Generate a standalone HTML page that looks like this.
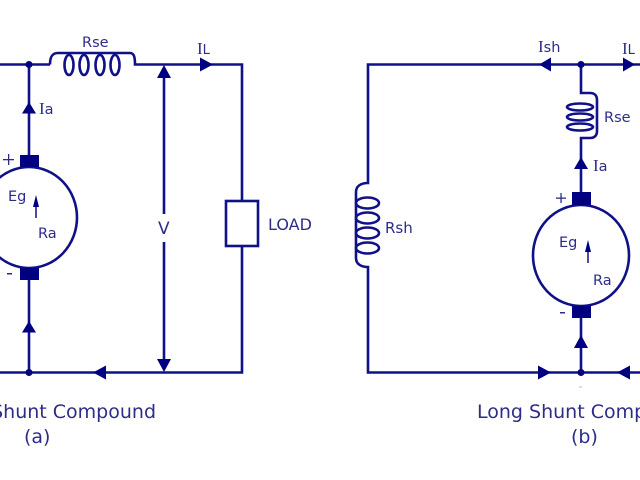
<!DOCTYPE html>
<html>
<head>
<meta charset="utf-8">
<style>
html,body{margin:0;padding:0;background:#fff;width:640px;height:480px;overflow:hidden}
svg{display:block}
text{font-family:"DejaVu Sans","Liberation Sans",sans-serif;fill:#2d2d88}
.i{font-family:"Liberation Serif",serif}
</style>
</head>
<body>
<svg width="640" height="480" viewBox="0 0 640 480" xmlns="http://www.w3.org/2000/svg">
<rect width="640" height="480" fill="#fff"/>
<g fill="none" stroke="#101088" stroke-width="2.6">
  <!-- Left circuit -->
  <path d="M0 64.500H50"/>
  <path d="M50 64.500C50 57 52 53 58 53H130C134 53 135 57 135 64.500H242V201M242 246V372.500H0"/>
  <ellipse cx="69" cy="65" rx="4.500" ry="10"/>
  <ellipse cx="84" cy="65" rx="4.500" ry="10"/>
  <ellipse cx="100" cy="65" rx="4.500" ry="10"/>
  <ellipse cx="115" cy="65" rx="4.500" ry="10"/>
  <path d="M29 64.500V156M29 279V372.500"/>
  <ellipse cx="29" cy="217.500" rx="48" ry="50.500"/>
  <rect x="226" y="201" width="32" height="45"/>
  <path d="M164 70V214M164 242V368"/>
  <!-- Right circuit -->
  <path d="M640 64.500H368V183C361 183 356 186 356 192V258C356 264 361 267 368 267V372.500H640"/>
  <ellipse cx="367.500" cy="203" rx="11.500" ry="5.500"/>
  <ellipse cx="367.500" cy="218" rx="11.500" ry="5.500"/>
  <ellipse cx="367.500" cy="233" rx="11.500" ry="5.500"/>
  <ellipse cx="367.500" cy="248" rx="11.500" ry="5.500"/>
  <path d="M581 64.500V93H590C595 93 597 96 597 100V131C597 135 595 138 590 138H581V193M581 317V372.500"/>
  <ellipse cx="580" cy="107" rx="13" ry="3.500"/>
  <ellipse cx="580" cy="117" rx="13" ry="3.500"/>
  <ellipse cx="580" cy="127" rx="13" ry="3.500"/>
  <ellipse cx="581" cy="255.500" rx="48" ry="50.500"/>
</g>
<g fill="#000080">
  <rect x="20" y="155" width="19" height="12"/>
  <rect x="20" y="268" width="19" height="12"/>
  <rect x="572" y="192" width="19" height="13"/>
  <rect x="572" y="306" width="19" height="12"/>
  <circle cx="29" cy="64.500" r="3.500"/>
  <circle cx="29" cy="372.500" r="3.500"/>
  <circle cx="581" cy="64.500" r="3.500"/>
  <circle cx="581" cy="372.500" r="3.500"/>
  <path d="M213 64.500L200 57.500V71.500Z"/>
  <path d="M164 65L171 78H157Z"/>
  <path d="M164 372L157 359H171Z"/>
  <path d="M29 102L36 113.500H22Z"/>
  <path d="M29 321L36 332.500H22Z"/>
  <path d="M93 372.500L106 365.500V379.500Z"/>
  <path d="M539 64.500L551 57.500V71.500Z"/>
  <path d="M635 64.500L623 57.500V71.500Z"/>
  <path d="M581 157L588 169H574Z"/>
  <path d="M581 335L588 348H574Z"/>
  <path d="M551 372.500L538 365.500V379.500Z"/>
  <path d="M617 372.500L630 365.500V379.500Z"/>
  <path d="M36 195L39 207H33Z"/>
  <path d="M588 240L591 252H585Z"/>
  <rect x="35.300" y="203" width="1.400" height="15"/>
  <rect x="587.300" y="248" width="1.400" height="15"/>
  <rect x="3" y="159" width="11" height="1.300" fill="#2d2d88"/>
  <rect x="8" y="154" width="1.300" height="11" fill="#2d2d88"/>
  <rect x="556" y="197.500" width="10" height="1.300" fill="#2d2d88"/>
  <rect x="560.400" y="193" width="1.300" height="10" fill="#2d2d88"/>
  <rect x="7" y="273" width="5" height="1.500" fill="#2d2d88"/>
  <rect x="560" y="312" width="5" height="1.500" fill="#2d2d88"/>
</g>
<rect x="579" y="386" width="3" height="2" fill="#ddd"/>
<g font-size="14.500">
  <text x="82" y="47">Rse</text>
  <text x="197" y="54"><tspan class="i" font-size="17">I</tspan><tspan font-size="13">L</tspan></text>
  <text x="39" y="114"><tspan class="i" font-size="17">I</tspan>a</text>
  <text x="8" y="201">Eg</text>
  <text x="38" y="238">Ra</text>
  <text x="158" y="234" font-size="17">V</text>
  <text x="268" y="230" font-size="16">LOAD</text>
  <text x="538" y="52"><tspan class="i" font-size="17">I</tspan>sh</text>
  <text x="622" y="54"><tspan class="i" font-size="17">I</tspan><tspan font-size="13">L</tspan></text>
  <text x="604" y="122">Rse</text>
  <text x="593" y="171"><tspan class="i" font-size="17">I</tspan>a</text>
  <text x="559" y="247">Eg</text>
  <text x="593" y="285">Ra</text>
  <text x="385" y="233" font-size="15">Rsh</text>
</g>
<g font-size="19">
  <text x="156" y="418" text-anchor="end">Shunt Compound</text>
  <text x="24" y="443">(a)</text>
  <text x="477" y="418">Long Shunt Compound</text>
  <text x="571" y="443">(b)</text>
</g>
</svg>
</body>
</html>
